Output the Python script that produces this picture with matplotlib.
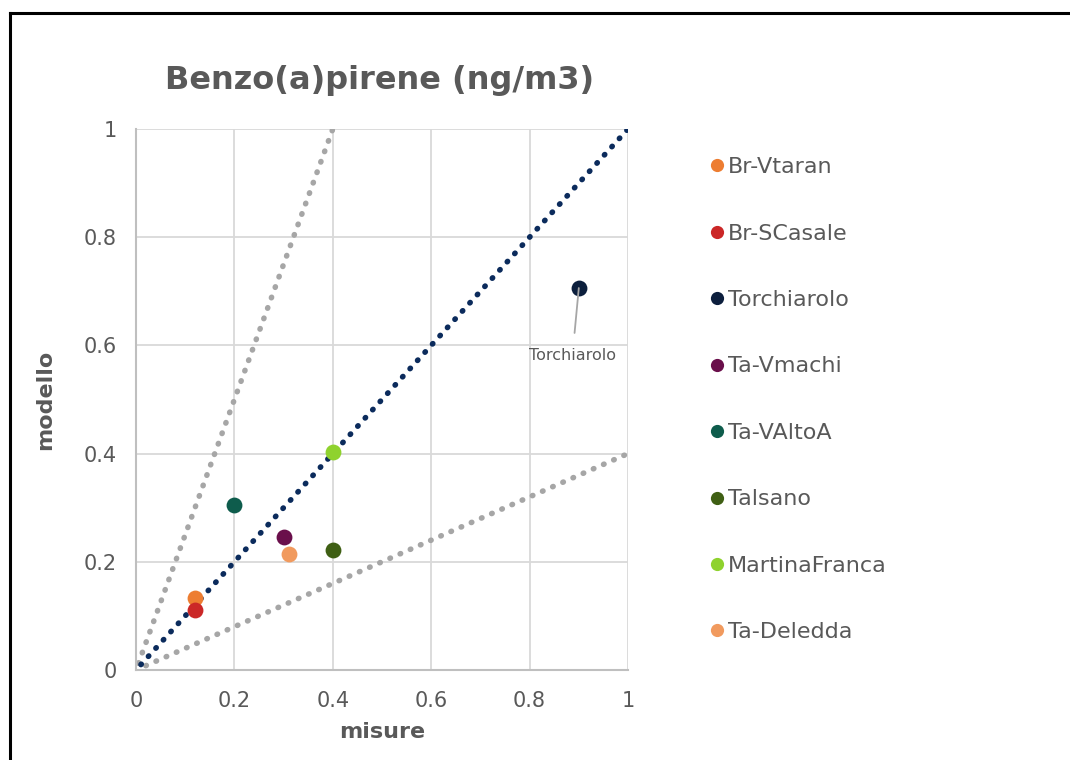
import matplotlib
matplotlib.use('Agg')
import matplotlib.pyplot as plt
from matplotlib.lines import Line2D

# station data (misure, modello)
stations = ['Br-Vtaran', 'Br-SCasale', 'Torchiarolo', 'Ta-Vmachi',
            'Ta-VAltoA', 'Talsano', 'MartinaFranca', 'Ta-Deledda']
misure = [0.12, 0.12, 0.90, 0.30, 0.20, 0.40, 0.40, 0.31]
modello = [0.134, 0.110, 0.706, 0.246, 0.305, 0.221, 0.403, 0.215]
colors = ['#ED7D31', '#CB2727', '#0C1F3D', '#6A0F4B',
          '#0E5C4C', '#3F5F14', '#8FD22E', '#F19A5E']

# reference lines: y = x, y = 2.5x, y = 0.4x
ref_x1 = [0.01, 1.0]
ref_y1 = [0.01, 1.0]
ref_x_hi = [0.005, 0.4]
ref_y_hi = [0.0125, 1.0]
ref_x_lo = [0.02, 1.0]
ref_y_lo = [0.008, 0.4]

txt_col = '#595959'

fig = plt.figure(figsize=(10.7, 7.6), dpi=100)
ax = fig.add_axes([136/1070, 1 - 670/760, 492/1070, 541/760])

dot = (0, (0.1, 1.9))
for xs, ys, c in [(ref_x_hi, ref_y_hi, '#A6A6A6'),
                  (ref_x_lo, ref_y_lo, '#A6A6A6'),
                  (ref_x1, ref_y1, '#0B2B5C')]:
    ln, = ax.plot(xs, ys, color=c, lw=4.0, linestyle=dot, zorder=2)
    ln.set_dash_capstyle('round')

for i in range(len(stations)):
    ax.scatter(misure[i], modello[i], s=130, color=colors[i], zorder=4,
               linewidths=0)

# label for Torchiarolo
ti = stations.index('Torchiarolo')
ax.annotate('Torchiarolo', xy=(misure[ti], modello[ti]),
            xytext=(misure[ti] - 0.013, modello[ti] - 0.125),
            ha='center', va='center', fontsize=11.5, color=txt_col,
            arrowprops=dict(arrowstyle='-', color='#A6A6A6', lw=1.3,
                            shrinkA=9, shrinkB=0), zorder=5)

ax.set_xlim(0, 1)
ax.set_ylim(0, 1)
ticks = [0, 0.2, 0.4, 0.6, 0.8, 1]
tick_labels = ['0', '0.2', '0.4', '0.6', '0.8', '1']
ax.set_xticks(ticks)
ax.set_xticklabels(tick_labels)
ax.set_yticks(ticks)
ax.set_yticklabels(tick_labels)
ax.tick_params(axis='both', length=0, labelsize=15, labelcolor=txt_col)
ax.tick_params(axis='y', pad=14)
ax.tick_params(axis='x', pad=15)
ax.grid(True, color='#D9D9D9', lw=1.3, zorder=0)
ax.set_axisbelow(True)
for side in ['top', 'right']:
    ax.spines[side].set_visible(False)
for side in ['left', 'bottom']:
    ax.spines[side].set_color('#BFBFBF')
    ax.spines[side].set_linewidth(1.5)

ax.set_xlabel('misure', fontsize=16, fontweight='bold', color=txt_col,
              labelpad=8)
ax.set_ylabel('modello', fontsize=16, fontweight='bold', color=txt_col,
              labelpad=20)

fig.text(380/1070, 1 - 80/760, 'Benzo(a)pirene (ng/m3)', fontsize=23,
         fontweight='bold', color=txt_col, ha='center', va='center')

handles = [Line2D([], [], marker='o', linestyle='', markersize=9.5,
                  markerfacecolor=c, markeredgewidth=0) for c in colors]
leg = fig.legend(handles, stations, loc='upper left',
                 bbox_to_anchor=(699/1070, 1 - 146/760), frameon=False,
                 fontsize=16, labelspacing=2.09, handlelength=0.6,
                 handletextpad=0.2, borderpad=0)
for t in leg.get_texts():
    t.set_color(txt_col)

# chart border
fig.add_artist(Line2D([10/1070, 10/1070], [0, 1 - 13/760], color='black',
                      lw=2.2, transform=fig.transFigure))
fig.add_artist(Line2D([10/1070, 1], [1 - 13/760, 1 - 13/760], color='black',
                      lw=2.2, transform=fig.transFigure))

fig.savefig('out.png', dpi=100)
